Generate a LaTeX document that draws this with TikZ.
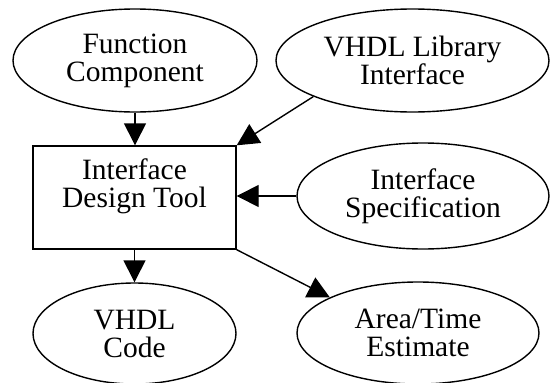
\documentclass[tikz,border=0pt]{standalone}
\usepackage{fontspec}
\setmainfont{Liberation Serif}
\usetikzlibrary{shapes.geometric,arrows.meta}
\begin{document}
\begin{tikzpicture}[x=1pt,y=-1pt,
  every node/.style={font=\fontsize{29.5}{28}\selectfont, align=center, inner sep=0pt},
  oval/.style={draw, ellipse, line width=1.4pt},
  toolbox/.style={draw, rectangle, line width=1.4pt},
  flow/.style={line width=1.4pt, -{Triangle[length=22pt,width=22pt]}}]
  \useasboundingbox (0,0) rectangle (550,383);

  % input ovals
  \node[oval, minimum width=244, minimum height=103] (func) at (135,60.5) {Function\\Component};
  \node[oval, minimum width=273, minimum height=103] (lib) at (412.5,60.5) {VHDL Library\\Interface};
  \node[oval, minimum width=252, minimum height=106] (spec) at (423,196) {Interface\\Specification};

  % central tool
  \node[toolbox, minimum width=203, minimum height=103] (tool) at (134.5,197.5) {};
  \node (toollabel) at (134.5,186) {Interface\\Design Tool};

  % output ovals
  \node[oval, minimum width=203, minimum height=101] (code) at (134.5,333.5) {VHDL\\Code};
  \node[oval, minimum width=242, minimum height=102] (area) at (418,333) {Area/Time\\Estimate};

  % connectors
  \draw[flow] (func.south) -- (func.south |- tool.north);
  \draw[flow] (lib.200) -- (tool.north east);
  \draw[flow] (spec.west) -- (spec.west -| tool.east);
  \draw[flow] (tool.south) -- (code.north);
  \draw[flow] (tool.south east) -- (area.158);
\end{tikzpicture}
\end{document}
